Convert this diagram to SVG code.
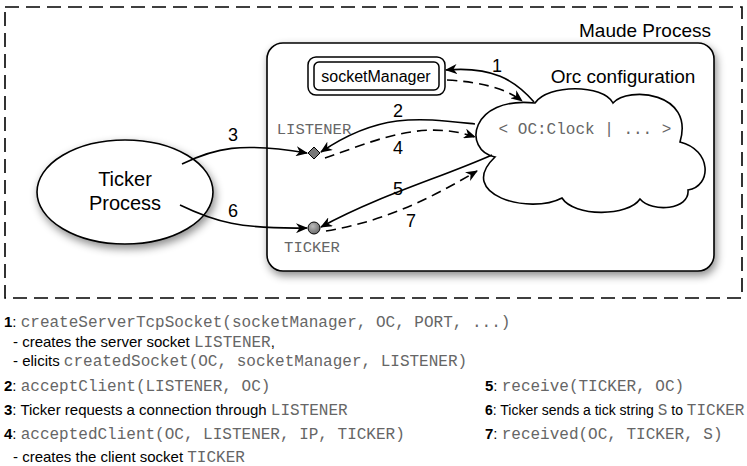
<svg xmlns="http://www.w3.org/2000/svg" width="747" height="466" viewBox="0 0 747 466">
<style>
.sans{font-family:"Liberation Sans",Arial,sans-serif;fill:#000}
.mono{font-family:"Liberation Mono","Courier New",monospace;fill:#666}
.edge{fill:none;stroke:#000;stroke-width:1.6}
.dash{stroke-dasharray:10,6}
.b{font-weight:bold}
.lbl{font-family:"Liberation Sans",Arial,sans-serif;font-size:18px;text-anchor:middle}
</style>
<defs>
<marker id="ah" viewBox="0 0 12 10" refX="11" refY="5" markerWidth="12" markerHeight="10" markerUnits="userSpaceOnUse" orient="auto">
<path d="M0,0 L12,5 L0,10 L3.5,5 z" fill="#000"/>
</marker>
<filter id="sh" x="-20%" y="-20%" width="140%" height="150%">
<feDropShadow dx="2" dy="4" stdDeviation="4" flood-color="#000" flood-opacity="0.45"/>
</filter>
<radialGradient id="gc" cx="0.4" cy="0.35" r="0.7">
<stop offset="0" stop-color="#bbb"/>
<stop offset="1" stop-color="#666"/>
</radialGradient>
</defs>

<g id="maude-process">
<rect x="5" y="7" width="737" height="291" fill="none" stroke="#000" stroke-width="1.6" stroke-dasharray="14,7"/>
<text class="sans" x="711" y="37" font-size="19" text-anchor="end">Maude Process</text>
</g>

<g id="orc-box">
<rect x="267" y="43" width="447" height="228" rx="16" fill="#fff" stroke="#000" stroke-width="1.6" filter="url(#sh)"/>
<text class="sans" x="623" y="83" font-size="19" text-anchor="middle">Orc configuration</text>
</g>

<g id="socketManager">
<rect x="308" y="57" width="137" height="38" rx="8" fill="#fff" stroke="#000" stroke-width="1.5"/>
<rect x="314" y="62" width="125" height="28" rx="5" fill="#fff" stroke="#000" stroke-width="1.5"/>
<text class="sans" x="376" y="82" font-size="16" text-anchor="middle">socketManager</text>
</g>

<g id="cloud">
<path d="M535,103 C548,84 603,84 613,103 C628,86 695,92 680,142 C712,150 712,186 688,190 C690,210 652,213 640,199 C628,217 574,217 562,198 C530,215 455,195 495,157 C462,150 470,96 535,103 Z" fill="#fff" stroke="#000" stroke-width="1.6"/>
<text class="mono" x="585" y="134" font-size="16" text-anchor="middle">&lt; OC:Clock | ... &gt;</text>
</g>

<g id="ticker-process">
<ellipse cx="125" cy="192" rx="88" ry="52" fill="#fff" stroke="#000" stroke-width="1.6" filter="url(#sh)"/>
<text class="sans" x="125" y="186" font-size="20" text-anchor="middle">Ticker</text>
<text class="sans" x="125" y="210" font-size="20" text-anchor="middle">Process</text>
</g>

<g id="listener">
<path d="M314,147 L320,153 L314,159 L308,153 Z" fill="#777" stroke="#000" stroke-width="1"/>
<text class="mono" x="314" y="134" font-size="15.5" text-anchor="middle">LISTENER</text>
</g>

<g id="ticker">
<circle cx="314" cy="228" r="6" fill="url(#gc)" stroke="#000" stroke-width="1"/>
<text class="mono" x="312" y="252" font-size="15.5" text-anchor="middle">TICKER</text>
</g>

<g id="connectors">
<path class="edge" d="M534,102 C515,80 492,66 446,70" marker-end="url(#ah)"/>
<path class="edge dash" d="M447,80 C480,82 505,88 522,101" marker-end="url(#ah)"/>
<path class="edge" d="M475,124 C420,118 380,112 321,152" marker-end="url(#ah)"/>
<path class="edge dash" d="M325,158 C370,143 420,118 475,137" marker-end="url(#ah)"/>
<path class="edge" d="M492,155 C440,178 380,195 321,227" marker-end="url(#ah)"/>
<path class="edge dash" d="M326,231 C380,222 425,202 477,171" marker-end="url(#ah)"/>
<path class="edge" d="M182,164 C215,148 240,142 307,153" marker-end="url(#ah)"/>
<path class="edge" d="M180,205 C215,222 240,229 307,228" marker-end="url(#ah)"/>
<text class="lbl" x="497" y="72">1</text>
<text class="lbl" x="398" y="117">2</text>
<text class="lbl" x="233" y="141">3</text>
<text class="lbl" x="398" y="154">4</text>
<text class="lbl" x="398" y="195">5</text>
<text class="lbl" x="233" y="217">6</text>
<text class="lbl" x="411" y="227">7</text>
</g>

<g id="legend" font-size="15">
<text x="4" y="327"><tspan class="sans b">1</tspan><tspan class="sans">: </tspan><tspan class="mono" font-size="16">createServerTcpSocket(socketManager, OC, PORT, ...)</tspan></text>
<text x="13" y="347"><tspan class="sans">- creates the server socket </tspan><tspan class="mono" font-size="16">LISTENER</tspan><tspan class="sans">,</tspan></text>
<text x="13" y="366"><tspan class="sans">- elicits </tspan><tspan class="mono" font-size="16">createdSocket(OC, socketManager, LISTENER)</tspan></text>
<text x="4" y="391"><tspan class="sans b">2</tspan><tspan class="sans">: </tspan><tspan class="mono" font-size="16">acceptClient(LISTENER, OC)</tspan></text>
<text x="4" y="415"><tspan class="sans b">3</tspan><tspan class="sans">: Ticker requests a connection through </tspan><tspan class="mono" font-size="16">LISTENER</tspan></text>
<text x="4" y="439"><tspan class="sans b">4</tspan><tspan class="sans">: </tspan><tspan class="mono" font-size="16">acceptedClient(OC, LISTENER, IP, TICKER)</tspan></text>
<text x="13" y="462"><tspan class="sans">- creates the client socket </tspan><tspan class="mono" font-size="16">TICKER</tspan></text>
<text x="485" y="391"><tspan class="sans b">5</tspan><tspan class="sans">: </tspan><tspan class="mono" font-size="16">receive(TICKER, OC)</tspan></text>
<text x="485" y="415" font-size="14"><tspan class="sans b">6</tspan><tspan class="sans">: Ticker sends a tick string </tspan><tspan class="mono" font-size="16">S</tspan><tspan class="sans"> to </tspan><tspan class="mono" font-size="16">TICKER</tspan></text>
<text x="485" y="439"><tspan class="sans b">7</tspan><tspan class="sans">: </tspan><tspan class="mono" font-size="16">received(OC, TICKER, S)</tspan></text>
</g>
</svg>
